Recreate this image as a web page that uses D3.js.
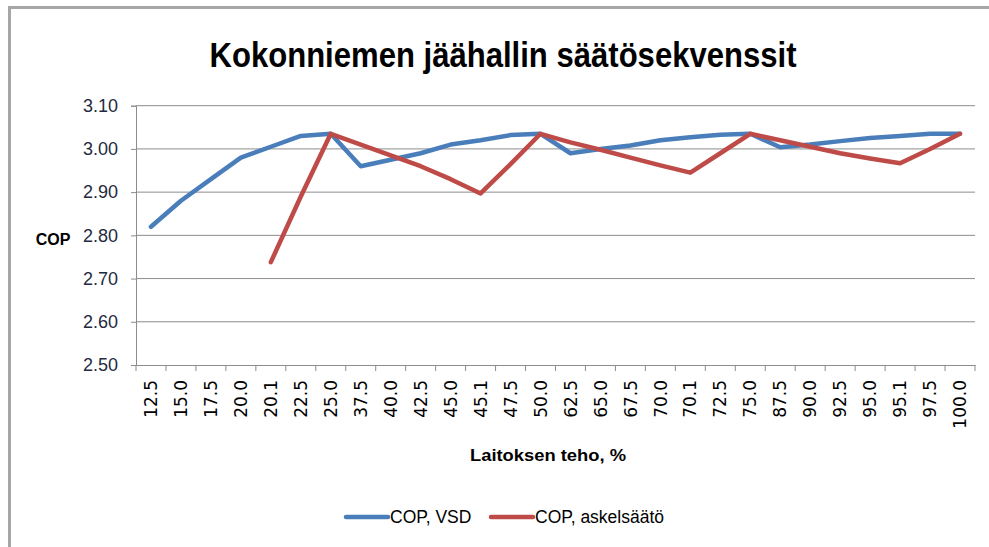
<!DOCTYPE html>
<html><head><meta charset="utf-8">
<script src="https://cdn.jsdelivr.net/npm/d3@7"></script>
<style>body{margin:0;background:#fff}svg{display:block}</style>
</head><body>
<script>
const categories = ["12.5","15.0","17.5","20.0","20.1","22.5","25.0","37.5","40.0","42.5","45.0","45.1","47.5","50.0","62.5","65.0","67.5","70.0","70.1","72.5","75.0","87.5","90.0","92.5","95.0","95.1","97.5","100.0"];
const copVSD = [2.82,2.88,2.93,2.98,3.005,3.03,3.035,2.96,2.975,2.99,3.01,3.02,3.032,3.035,2.99,3.0,3.008,3.02,3.027,3.033,3.035,3.004,3.01,3.018,3.025,3.03,3.035,3.035];
const copStep = [null,null,null,null,2.738,2.89,3.035,3.01,2.985,2.96,2.93,2.897,2.965,3.035,3.015,2.998,2.98,2.962,2.945,2.99,3.035,3.02,3.005,2.99,2.978,2.967,3.0,3.035];
const yTicks = [2.5,2.6,2.7,2.8,2.9,3.0,3.1];
const seriesNames = ["COP, VSD","COP, askelsäätö"];
const colors = ["#4a7ebb","#be4b48"];

const W=989,H=547;
const svg=d3.select("body").append("svg").attr("width",W).attr("height",H);
const font="Liberation Sans, Arial, sans-serif";
// outer frame
svg.append("path").attr("d",`M9.5,${H} V7.5 H${W}`).attr("fill","none").attr("stroke","#a6a6a6").attr("stroke-width",3);

const L=136,R=975,T=105.7,B=365;
const x=d3.scaleBand().domain(categories).range([L,R]);
const y=d3.scaleLinear().domain([2.5,3.1]).range([B,T]);

svg.append("text").attr("x",503).attr("y",67).attr("text-anchor","middle")
  .attr("font-family",font).attr("font-weight","bold").attr("font-size",35).attr("fill","#000")
  .attr("textLength",587).attr("lengthAdjust","spacingAndGlyphs")
  .text("Kokonniemen jäähallin säätösekvenssit");

// gridlines
svg.append("g").selectAll("line").data(yTicks.filter(d=>d>2.5)).join("line")
  .attr("x1",L).attr("x2",R).attr("y1",d=>y(d)).attr("y2",d=>y(d))
  .attr("stroke","#8c8c8c").attr("stroke-width",1);

// y axis
const ya=svg.append("g").attr("transform",`translate(${L},0)`)
  .call(d3.axisLeft(y).tickValues(yTicks).tickFormat(d3.format(".2f")).tickSize(5).tickPadding(13));
ya.select(".domain").attr("stroke","#8c8c8c");
ya.selectAll(".tick line").attr("stroke","#8c8c8c");
ya.selectAll("text").attr("font-family",font).attr("font-size",18).attr("fill","#1f2a40");

// x axis
const xa=svg.append("g").attr("transform",`translate(0,${B})`)
  .call(d3.axisBottom(x).tickSize(0).tickPadding(0));
xa.select(".domain").attr("stroke","#8c8c8c");
xa.selectAll(".tick line").remove();
xa.selectAll(".tick text").attr("font-family","DejaVu Sans, sans-serif").attr("font-size",17).attr("fill","#000")
  .attr("transform","rotate(-90)").attr("text-anchor","end").attr("dy","0.36em").attr("x",-15).attr("y",0);
// tick marks at category boundaries
svg.append("g").selectAll("line").data(categories.concat(["_end"])).join("line")
  .attr("x1",(d,i)=>L+i*x.step()).attr("x2",(d,i)=>L+i*x.step())
  .attr("y1",B).attr("y2",B+6).attr("stroke","#8c8c8c");

svg.append("text").attr("x",53).attr("y",245).attr("text-anchor","middle")
  .attr("font-family",font).attr("font-weight","bold").attr("font-size",16).text("COP");
svg.append("text").attr("x",548).attr("y",461).attr("text-anchor","middle")
  .attr("font-family",font).attr("font-weight","bold").attr("font-size",16)
  .attr("textLength",156).attr("lengthAdjust","spacingAndGlyphs").text("Laitoksen teho, %");

const cx=d=>x(d)+x.bandwidth()/2;
[copVSD,copStep].forEach((vals,k)=>{
  const line=d3.line().defined(d=>d[1]!=null).x(d=>cx(d[0])).y(d=>y(d[1]));
  svg.append("path").datum(categories.map((c,i)=>[c,vals[i]]))
    .attr("d",line).attr("fill","none").attr("stroke",colors[k]).attr("stroke-width",4.5)
    .attr("stroke-linejoin","round").attr("stroke-linecap","round");
});

// legend
const legX=[346,491];
seriesNames.forEach((n,k)=>{
  svg.append("line").attr("x1",legX[k]).attr("x2",legX[k]+42).attr("y1",517).attr("y2",517)
    .attr("stroke",colors[k]).attr("stroke-width",4.5).attr("stroke-linecap","round");
  svg.append("text").attr("x",legX[k]+44).attr("y",523).attr("font-family",font).attr("font-size",17.5).text(n);
});
</script>
</body></html>
